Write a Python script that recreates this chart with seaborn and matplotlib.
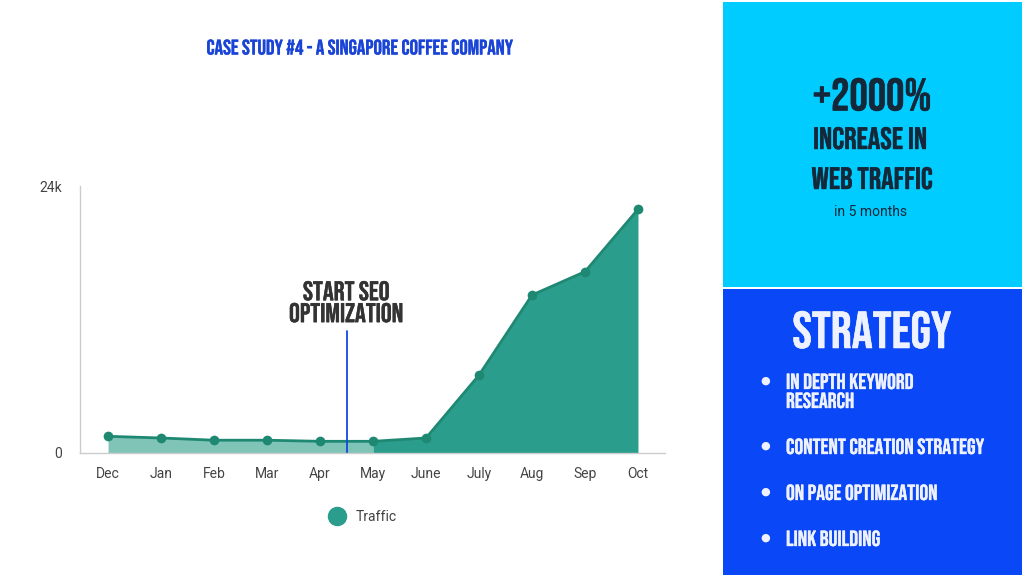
import matplotlib.pyplot as plt
import matplotlib.patheffects as pe
import seaborn as sns
import pandas as pd
from matplotlib.patches import Rectangle
from matplotlib.lines import Line2D

# data
months = ['Dec', 'Jan', 'Feb', 'Mar', 'Apr', 'May', 'June', 'July', 'Aug', 'Sep', 'Oct']
traffic = [1500, 1350, 1150, 1150, 1050, 1050, 1350, 7000, 14200, 16300, 21900]
seo_start = 4.5  # between Apr and May
strategy_items = [['IN DEPTH KEYWORD', 'RESEARCH'], ['CONTENT CREATION STRATEGY'],
                  ['ON PAGE OPTIMIZATION'], ['LINK BUILDING']]

W, H = 1024, 576
TEAL = '#2a9d8c'
TEAL_DARK = '#1f8873'
TEAL_LIGHT = '#7fc4b7'
HEAD = ['Bebas Neue', 'DejaVu Sans']
PLAIN = ['Roboto', 'DejaVu Sans']


def px(x, y):
    return x / W, 1 - y / H


def heavy(color, w=0.3):
    # Bebas Neue only ships one weight; a thin stroke thickens it slightly
    return [pe.withStroke(linewidth=w, foreground=color)]


sns.set_theme(style='white')
plt.rcParams['font.family'] = PLAIN

df = pd.DataFrame({'month': months, 'traffic': traffic})
df['idx'] = range(len(df))

fig = plt.figure(figsize=(W / 100, H / 100), dpi=100)
fig.patch.set_facecolor('white')

# chart area
l, b = px(80, 453)
r, t = px(665, 186)
ax = fig.add_axes([l, b, r - l, t - b])
ax.set_facecolor('white')

split = months.index('May')
ax.fill_between(df['idx'][:split + 1], df['traffic'][:split + 1], color=TEAL_LIGHT, lw=0)
ax.fill_between(df['idx'][split:], df['traffic'][split:], color=TEAL, lw=0)
sns.lineplot(data=df, x='idx', y='traffic', ax=ax, color=TEAL_DARK, lw=2,
             marker='o', markersize=7, markeredgewidth=0)
ax.plot([seo_start, seo_start], [0, 11000], color='#1746e0', lw=1.3)
ax.text(seo_start, 13600, 'START SEO\nOPTIMIZATION', ha='center', va='center',
        fontsize=19.5, family=HEAD, color='#333333', linespacing=1.15,
        path_effects=heavy('#333333'))

ax.set_xlim(-0.53, 10.51)
ax.set_ylim(0, 24000)
ax.set_xticks(range(len(months)))
ax.set_xticklabels(months)
ax.set_yticks([0, 24000])
ax.set_yticklabels(['0', '24k'])
ax.tick_params(length=0, labelsize=10, labelcolor='#444444', pad=13)
ax.tick_params(axis='x', pad=10)
ax.set_xlabel('')
ax.set_ylabel('')
for s in ['top', 'right']:
    ax.spines[s].set_visible(False)
for s in ['left', 'bottom']:
    ax.spines[s].set_color('#cccccc')
    ax.spines[s].set_linewidth(1)

handle = Line2D([], [], marker='o', ls='', color=TEAL, markersize=13)
fig.legend(handles=[handle], labels=['Traffic'], loc='center',
           bbox_to_anchor=px(360, 517), frameon=False, fontsize=10,
           handletextpad=0.3, labelcolor='#444444')

fig.text(*px(360, 47), 'CASE STUDY #4 - A SINGAPORE COFFEE COMPANY', ha='center',
         va='center', fontsize=15.2, family=HEAD, color='#1a44d6',
         path_effects=heavy('#1a44d6', 0.25))

# right panels
x0, y0 = px(723, 287)
fig.patches.append(Rectangle((x0, y0), 299 / W, 285 / H, transform=fig.transFigure,
                             facecolor='#00ccff', edgecolor='none'))
x0, y0 = px(723, 575)
fig.patches.append(Rectangle((x0, y0), 299 / W, 286 / H, transform=fig.transFigure,
                             facecolor='#0a47f7', edgecolor='none'))

NAVY = '#15283a'
fig.text(*px(872, 94), '+2000%', ha='center', va='center', fontsize=33,
         family=HEAD, color=NAVY, path_effects=heavy(NAVY, 0.4))
fig.text(*px(870, 138), 'INCREASE IN', ha='center', va='center', fontsize=22.3,
         family=HEAD, color=NAVY, path_effects=heavy(NAVY))
fig.text(*px(872, 178), 'WEB TRAFFIC', ha='center', va='center', fontsize=22.3,
         family=HEAD, color=NAVY, path_effects=heavy(NAVY))
fig.text(*px(871, 212), 'in 5 months', ha='center', va='center', fontsize=10,
         family=PLAIN, color=NAVY)

WHITE = '#eef1ff'
fig.text(*px(872, 330), 'STRATEGY', ha='center', va='center', fontsize=37.5,
         family=HEAD, color=WHITE, path_effects=heavy(WHITE, 0.4))
item_y = [381, 446, 492, 538]
for lines, yy in zip(strategy_items, item_y):
    fig.text(*px(765, yy), '\u25cf', ha='center', va='center', fontsize=8,
             color=WHITE, family=['DejaVu Sans'])
    for k, line in enumerate(lines):
        fig.text(*px(786, yy + 19 * k), line, ha='left', va='center', fontsize=15.8,
                 family=HEAD, color=WHITE, path_effects=heavy(WHITE, 0.25))

fig.savefig('out.png', dpi=100)
